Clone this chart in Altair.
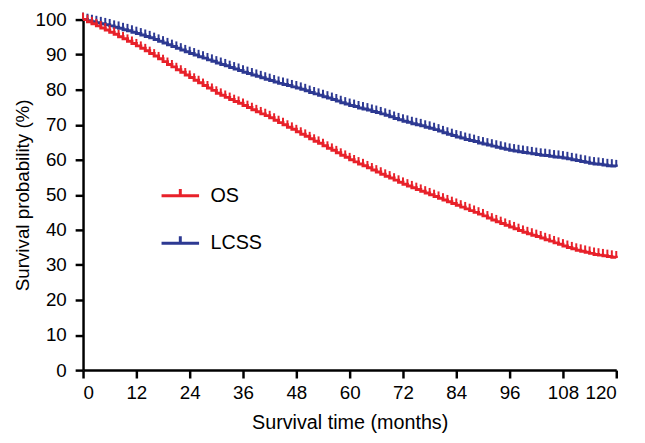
import altair as alt
import pandas as pd

months = list(range(0, 121))

os_values = [
    100.0, 99.4, 98.8, 98.2, 97.6, 97.0, 96.4,
    95.8, 95.1, 94.5, 93.8, 93.2, 92.5,
    91.8, 91.1, 90.3, 89.6, 88.8, 88.0,
    87.2, 86.5, 85.7, 85.0, 84.2, 83.5,
    82.7, 82.0, 81.2, 80.5, 79.8, 79.0,
    78.4, 77.8, 77.2, 76.6, 76.1, 75.5,
    74.9, 74.3, 73.7, 73.1, 72.6, 72.0,
    71.3, 70.6, 70.0, 69.3, 68.7, 68.0,
    67.3, 66.7, 66.0, 65.3, 64.7, 64.0,
    63.3, 62.7, 62.0, 61.3, 60.7, 60.0,
    59.4, 58.8, 58.3, 57.7, 57.1, 56.5,
    55.9, 55.3, 54.8, 54.2, 53.6, 53.0,
    52.5, 52.0, 51.5, 51.0, 50.5, 50.0,
    49.5, 49.0, 48.5, 48.0, 47.5, 47.0,
    46.5, 46.0, 45.5, 45.0, 44.5, 44.0,
    43.4, 42.8, 42.3, 41.8, 41.3, 40.8,
    40.3, 39.8, 39.3, 38.9, 38.5, 38.1,
    37.7, 37.2, 36.8, 36.3, 35.9, 35.4,
    35.0, 34.6, 34.2, 33.9, 33.6, 33.3,
    33.0, 32.8, 32.6, 32.4, 32.2, 32.0,
]

lcss_values = [
    100.0, 99.7, 99.4, 99.1, 98.8, 98.5, 98.2,
    97.8, 97.5, 97.1, 96.8, 96.4, 96.0,
    95.6, 95.2, 94.8, 94.3, 93.8, 93.3,
    92.8, 92.3, 91.8, 91.3, 90.8, 90.3,
    89.9, 89.4, 89.0, 88.5, 88.1, 87.6,
    87.2, 86.8, 86.3, 85.9, 85.5, 85.0,
    84.6, 84.2, 83.8, 83.4, 83.0, 82.6,
    82.2, 81.8, 81.5, 81.2, 80.8, 80.5,
    80.1, 79.7, 79.2, 78.8, 78.4, 78.0,
    77.6, 77.2, 76.8, 76.3, 75.9, 75.5,
    75.2, 74.8, 74.5, 74.2, 73.8, 73.5,
    73.1, 72.7, 72.3, 71.8, 71.4, 71.0,
    70.7, 70.3, 70.0, 69.7, 69.3, 69.0,
    68.6, 68.2, 67.7, 67.3, 66.9, 66.5,
    66.2, 65.8, 65.5, 65.2, 64.8, 64.5,
    64.2, 63.9, 63.6, 63.3, 63.0, 62.7,
    62.5, 62.3, 62.1, 61.9, 61.7, 61.5,
    61.3, 61.2, 61.0, 60.8, 60.7, 60.5,
    60.3, 60.0, 59.8, 59.5, 59.3, 59.0,
    58.8, 58.7, 58.5, 58.3, 58.2, 58.0,
]

groups = ["OS", "LCSS"]
colors = ["#E8212A", "#2D3992"]
x_ticks = [0, 12, 24, 36, 48, 60, 72, 84, 96, 108, 120]
y_ticks = [0, 10, 20, 30, 40, 50, 60, 70, 80, 90, 100]

df = pd.concat([
    pd.DataFrame({"t": months, "s": lcss_values, "g": "LCSS"}),
    pd.DataFrame({"t": months, "s": os_values, "g": "OS"}),
])

FONT = "Liberation Sans"

x = alt.X("t:Q", title="Survival time (months)",
          scale=alt.Scale(domain=[0, 120], nice=False),
          axis=alt.Axis(values=x_ticks, labelFontSize=19, titleFontSize=20,
                        labelPadding=6, titlePadding=10))
y = alt.Y("s:Q", title="Survival probability (%)",
          scale=alt.Scale(domain=[0, 100], nice=False),
          axis=alt.Axis(values=y_ticks, labelFontSize=19, titleFontSize=19,
                        labelPadding=9, titlePadding=3))
color_scale = alt.Scale(domain=groups, range=colors)

lines = alt.Chart(df).mark_line(interpolate="step-after", strokeWidth=3).encode(
    x=x, y=y,
    color=alt.Color("g:N", scale=color_scale, sort=groups,
                    legend=alt.Legend(title=None, orient="none", legendX=78, legendY=158,
                                      symbolType="M-1,0H1M0,0V-0.37", symbolSize=1444,
                                      symbolStrokeWidth=3, labelFontSize=20,
                                      labelOffset=10, rowPadding=17, labelColor="black")),
)

ticks = alt.Chart(df).mark_point(shape="M0,0V-1", size=196, strokeWidth=2, filled=False, opacity=1).encode(
    x=x, y=y,
    color=alt.Color("g:N", scale=color_scale, legend=None),
)

chart = (lines + ticks).properties(
    width=540, height=355,
    autosize=alt.AutoSizeParams(type="none"),
    padding={"left": 76, "top": 9, "right": 21, "bottom": 63},
).configure_view(stroke=None).configure_axis(
    grid=False, domainColor="black", domainWidth=2.5, tickColor="black",
    tickWidth=2.5, tickSize=8, labelColor="black", titleColor="black",
    labelFont=FONT, titleFont=FONT, titleFontWeight="normal",
).configure_legend(labelFont=FONT)

chart.save("out.html", embed_options={"renderer": "svg", "actions": False})
